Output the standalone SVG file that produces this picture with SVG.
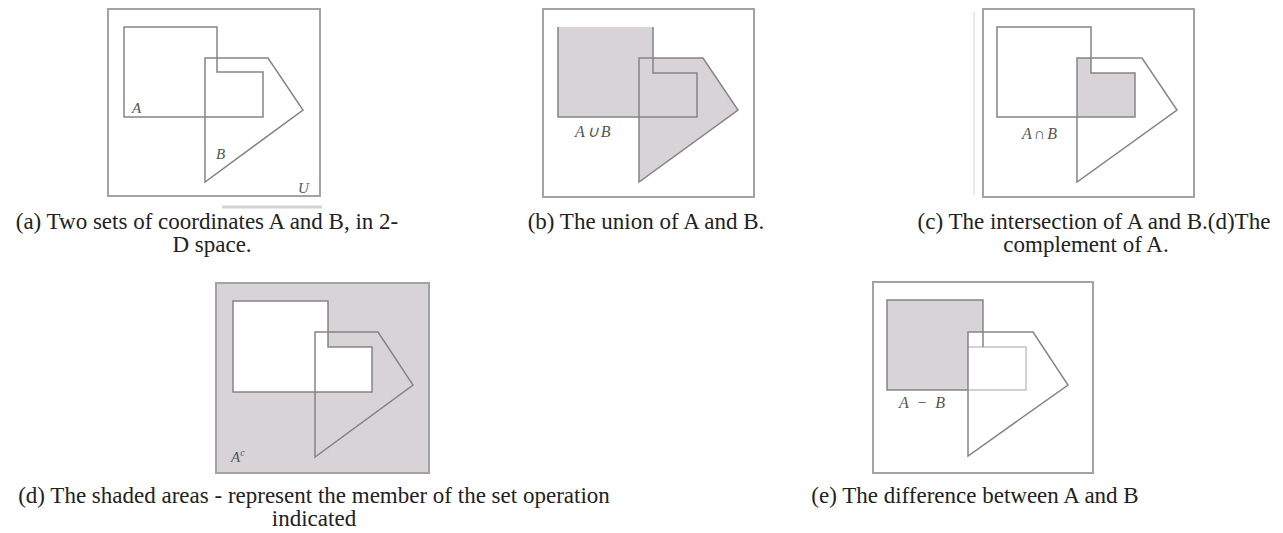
<svg xmlns="http://www.w3.org/2000/svg" width="1283" height="533" viewBox="0 0 1283 533">
<style>
.frame{fill:#ffffff;stroke:#a3a3a3;stroke-width:2}
.shape{fill:none;stroke:#858585;stroke-width:1.5;stroke-linejoin:miter}
.shade{fill:#d7d3d7;stroke:none}
.lbl{font-family:"Liberation Serif",serif;font-style:italic;font-size:15px;fill:#555555}
.op{font-size:16px;letter-spacing:2px}
.cap{font-family:"Liberation Serif",serif;font-size:23px;fill:#222222;text-anchor:middle}
.faint{stroke:#d4d4d4;fill:none}
</style>
<rect width="1283" height="533" fill="#ffffff"/>

<g id="panel-a">
  <rect class="frame" x="108" y="9" width="212" height="187"/>
  <line class="faint" x1="222" y1="207" x2="322" y2="207" stroke-width="3"/>
  <polygon class="shape" points="124,27 217,27 217,72 263,72 263,117 124,117"/>
  <polygon class="shape" points="205,58 268,58 303,110 205,182"/>
  <text class="lbl" x="132" y="113">A</text>
  <text class="lbl" x="216" y="159">B</text>
  <text class="lbl" x="298" y="193">U</text>
</g>

<g id="panel-b">
  <rect class="frame" x="543" y="9" width="211" height="188"/>
  <polygon class="shade" points="558,27 653,27 653,73 697,73 697,117 558,117"/>
  <polygon class="shade" points="639,58 703,58 738,110 639,182"/>
  <polyline class="shape" points="653,27 653,73 697,73 697,117 558,117 558,27"/>
  <polygon class="shape" points="639,58 703,58 738,110 639,182"/>
  <text class="lbl op" x="575" y="137">A∪B</text>
</g>

<g id="panel-c">
  <line class="faint" x1="974" y1="12" x2="974" y2="195" stroke-width="1"/>
  <rect class="frame" x="983" y="9" width="211" height="188"/>
  <polygon class="shade" points="1077,58 1091,58 1091,73 1135,73 1135,117 1077,117"/>
  <polygon class="shape" points="997,27 1091,27 1091,73 1135,73 1135,117 997,117"/>
  <polygon class="shape" points="1077,58 1142,58 1177,110 1077,182"/>
  <text class="lbl op" x="1022" y="139">A∩B</text>
</g>

<g id="panel-d">
  <rect class="frame" x="216" y="283" width="213" height="190" style="fill:#d7d3d7"/>
  <polygon points="233,301 328,301 328,347 372,347 372,392 233,392" fill="#ffffff" stroke="#858585" stroke-width="1.5"/>
  <polygon class="shape" points="315,332 378,332 413,385 315,457"/>
  <text class="lbl" x="231" y="462">A<tspan font-size="10" dy="-6">c</tspan></text>
</g>

<g id="panel-e">
  <rect class="frame" x="873" y="282" width="220" height="191"/>
  <polygon class="shade" points="887,300 983,300 983,332 968,332 968,390 887,390"/>
  <polyline points="968,347 983,347 1026,347 1026,390 968,390" fill="none" stroke="#c4c4c4" stroke-width="1.5"/>
  <polyline points="968,390 887,390 887,300 983,300 983,347" fill="none" stroke="#858585" stroke-width="1.5"/>
  <polygon class="shape" points="968,332 1033,332 1068,385 968,456"/>
  <text class="lbl op" x="899" y="408">A − B</text>
</g>

<g id="captions">
  <text class="cap" x="207" y="229">(a) Two sets of coordinates A and B, in 2-</text>
  <text class="cap" x="212" y="252">D space.</text>
  <text class="cap" x="646" y="229">(b) The union of A and B.</text>
  <text class="cap" x="1094" y="229">(c) The intersection of A and B.(d)The</text>
  <text class="cap" x="1086" y="252">complement of A.</text>
  <text class="cap" x="314" y="503">(d) The shaded areas - represent the member of the set operation</text>
  <text class="cap" x="314" y="526">indicated</text>
  <text class="cap" x="975" y="503">(e) The difference between A and B</text>
</g>
</svg>
